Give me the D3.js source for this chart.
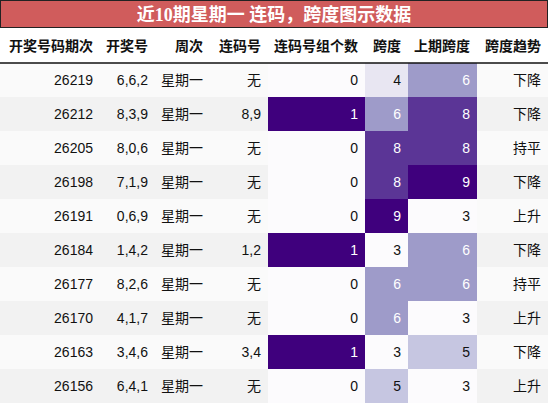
<!DOCTYPE html>
<html><head><meta charset="utf-8">
<script src="https://cdn.jsdelivr.net/npm/d3@7"></script>
<style>body{margin:0;background:#fff;font-family:"Liberation Sans","Noto Sans CJK SC",sans-serif;}</style>
</head><body><div id="chart"></div>
<script>
const columns = ["开奖号码期次", "开奖号", "周次", "连码号", "连码号组个数", "跨度", "上期跨度", "跨度趋势"];
const issues = ["26219", "26212", "26205", "26198", "26191", "26184", "26177", "26170", "26163", "26156"];
const draws = ["6,6,2", "8,3,9", "8,0,6", "7,1,9", "0,6,9", "1,4,2", "8,2,6", "4,1,7", "3,4,6", "6,4,1"];
const weekdays = Array(10).fill("星期一");
const consec = ["无", "8,9", "无", "无", "无", "1,2", "无", "无", "3,4", "无"];
const consecCount = [0, 1, 0, 0, 0, 1, 0, 0, 1, 0];
const spans = [4, 6, 8, 8, 9, 3, 6, 6, 3, 5];
const prevSpans = [6, 8, 8, 9, 3, 6, 6, 3, 5, 3];
const trends = ["下降", "下降", "持平", "下降", "上升", "下降", "持平", "上升", "下降", "上升"];

const W = 548, H = 404, titleH = 27, headH = 36, rowH = 34;
const edges = [0, 100, 155, 210, 268, 365, 408, 477, 548];

const svg = d3.select("#chart").append("svg").attr("width", W).attr("height", H);

const y = d3.scaleBand().domain(d3.range(issues.length))
  .range([titleH + headH, titleH + headH + rowH * issues.length]);
const countColor = d3.scaleSequential(d3.interpolatePurples).domain([0, 1]);
const spanColor = d3.scaleSequential(d3.interpolatePurples).domain([3, 9]);

// title
svg.append("rect").attr("x", 0.5).attr("y", 0.5).attr("width", W - 1).attr("height", titleH)
  .attr("fill", "#d05c5c").attr("stroke", "#222").attr("stroke-width", 1);
svg.append("text").attr("x", W / 2).attr("y", titleH / 2 + 7).attr("text-anchor", "middle")
  .attr("fill", "#fff").style("font-size", "18px").style("font-weight", "bold")
  .style("font-family", "'Liberation Serif','Noto Sans CJK SC',serif")
  .text("近10期星期一 连码，跨度图示数据");

// header
svg.selectAll(".hd").data(columns).enter().append("text")
  .attr("x", (d, i) => edges[i + 1] - 7).attr("y", titleH + headH / 2 + 6)
  .attr("text-anchor", "end").style("font-size", "14px").style("font-weight", "bold")
  .attr("fill", "#111").text(d => d);

const rows = issues.map((d, i) => ({
  i, cells: [
    { v: d }, { v: draws[i] }, { v: weekdays[i] }, { v: consec[i] },
    { v: consecCount[i], fill: countColor(consecCount[i]), t: consecCount[i] },
    { v: spans[i], fill: spanColor(spans[i]), t: (spans[i] - 3) / 6 },
    { v: prevSpans[i], fill: spanColor(prevSpans[i]), t: (prevSpans[i] - 3) / 6 },
    { v: trends[i] }
  ]
}));

const g = svg.selectAll(".row").data(rows).enter().append("g")
  .attr("transform", d => `translate(0,${y(d.i)})`);
g.append("rect").attr("width", W).attr("height", y.bandwidth())
  .attr("fill", d => d.i % 2 ? "#f2f2f2" : "#fafafa");
g.each(function (r) {
  const sel = d3.select(this);
  r.cells.forEach((c, j) => {
    if (c.fill) sel.append("rect").attr("x", edges[j]).attr("width", edges[j + 1] - edges[j])
      .attr("height", y.bandwidth()).attr("fill", c.fill);
    sel.append("text").attr("x", edges[j + 1] - 7).attr("y", y.bandwidth() / 2 + 5)
      .attr("text-anchor", "end").style("font-size", "14px")
      .attr("fill", c.fill && c.t > 0.4 ? "#fff" : "#111").text(c.v);
  });
});

svg.append("line").attr("x1", 0).attr("x2", W).attr("y1", titleH + headH).attr("y2", titleH + headH)
  .attr("stroke", "#111").attr("stroke-width", 1.5);
</script></body></html>
